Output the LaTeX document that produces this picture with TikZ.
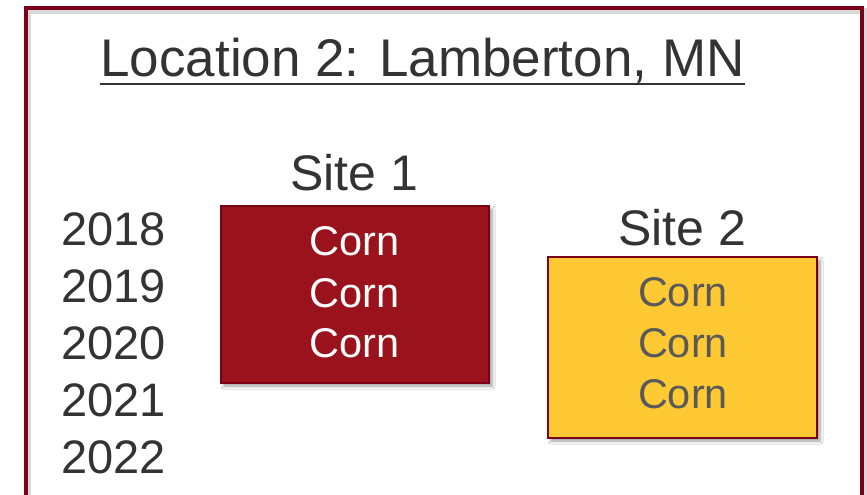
\documentclass[tikz,border=0pt]{standalone}
\usepackage{fontspec}
\setmainfont{Liberation Sans}
\usetikzlibrary{shadows.blur}

\definecolor{umaroon}{RGB}{122,0,25}
\definecolor{cornred}{RGB}{154,19,28}
\definecolor{ugold}{RGB}{255,201,51}
\definecolor{inkdark}{RGB}{51,51,51}
\definecolor{inkgray}{RGB}{89,89,89}

\tikzset{
  labeltext/.style={inner sep=0pt, text=inkdark, anchor=base},
  titletext/.style={labeltext, font=\fontsize{53}{60}\selectfont},
  sitetext/.style={labeltext, font=\fontsize{50}{58}\selectfont},
  yeartext/.style={labeltext, anchor=base west, font=\fontsize{47}{54}\selectfont},
  corntext/.style={inner sep=0pt, anchor=base, font=\fontsize{41.5}{48}\selectfont},
  plotbox/.style={draw=umaroon, minimum width=#1, inner sep=0pt,
    blur shadow={shadow xshift=3pt, shadow yshift=-3pt, shadow blur steps=6,
      shadow blur radius=3pt, shadow opacity=40}},
}

\begin{document}
\begin{tikzpicture}[x=1pt, y=-1pt]
  \useasboundingbox (0,0) rectangle (867,495);
  \fill[white] (0,0) rectangle (867,495);

  % outer frame with a soft shadow
  \draw[black!60, opacity=0.25, line width=6pt] (27.5,11) rectangle (864,530);
  \draw[umaroon, line width=4pt] (25.5,8) rectangle (861.5,530);

  % heading
  \node[titletext] (title) at (422.5,77) {Location 2: Lamberton, MN};
  \draw[inkdark, line width=2.5pt]
    ([yshift=-7pt]title.base west) -- ([yshift=-7pt]title.base east);

  % years
  \foreach \yr/\yy in {2018/245, 2019/302, 2020/359, 2021/416, 2022/473}
    \node[yeartext] (y\yr) at (61,\yy) {\yr};

  % site 1
  \node[plotbox=268pt, minimum height=177pt, fill=cornred,
        draw=umaroon, line width=1.2pt] (site1) at (355,294.5) {};
  \node[sitetext] (site1lbl) at (354,190) {Site 1};
  \foreach \yy [count=\i] in {255,307,357}
    \node[corntext, text=white] (s1c\i) at (354.5,\yy) {Corn};

  % site 2
  \node[plotbox=269pt, minimum height=181pt, fill=ugold,
        draw=umaroon, line width=1.8pt] (site2) at (682.5,347.5) {};
  \node[sitetext] (site2lbl) at (682,245) {Site 2};
  \foreach \yy [count=\i] in {306,357,408}
    \node[corntext, text=inkgray] (s2c\i) at (683,\yy) {Corn};
\end{tikzpicture}
\end{document}
